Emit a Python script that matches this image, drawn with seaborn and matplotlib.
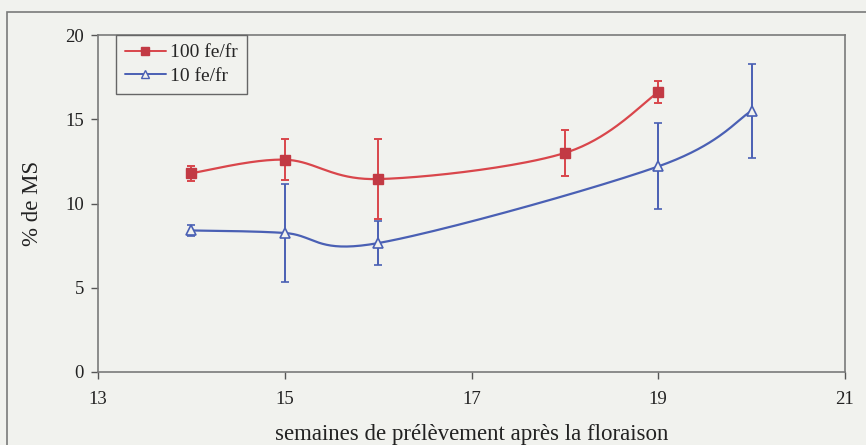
import numpy as np
import pandas as pd
import matplotlib
matplotlib.use("Agg")
import matplotlib.pyplot as plt
import seaborn as sns
from matplotlib.lines import Line2D
from matplotlib.patches import Rectangle

# ---- data ----
weeks_100 = [14, 15, 16, 18, 19]
ms_100 = [11.8, 12.6, 11.45, 13.0, 16.6]
err_100 = [0.45, 1.2, 2.35, 1.35, 0.65]

weeks_10 = [14, 15, 16, 19, 20]
ms_10 = [8.4, 8.25, 7.65, 12.2, 15.5]
err_10 = [0.3, 2.9, 1.3, 2.55, 2.8]

series_names = ["100 fe/fr", "10 fe/fr"]
x_ticks = [13, 15, 17, 19, 21]
y_ticks = [0, 5, 10, 15, 20]
x_label = "semaines de prélèvement après la floraison"
y_label = "% de MS"


def smooth(xs, ys, n=40):
    """Catmull-Rom (Excel-like smoothed line) through the data points."""
    P = np.column_stack([xs, ys]).astype(float)
    P = np.vstack([P[0], P, P[-1]])
    out = []
    t = np.linspace(0, 1, n)[:, None]
    for i in range(1, len(P) - 2):
        p0, p1, p2, p3 = P[i - 1], P[i], P[i + 1], P[i + 2]
        c1 = p1 + (p2 - p0) / 6
        c2 = p2 - (p3 - p1) / 6
        seg = ((1 - t) ** 3) * p1 + 3 * ((1 - t) ** 2) * t * c1 + 3 * (1 - t) * t ** 2 * c2 + t ** 3 * p2
        out.append(seg if i == 1 else seg[1:])
    arr = np.vstack(out)
    return arr[:, 0], arr[:, 1]


sns.set_style("white")
plt.rcParams["font.family"] = ["Liberation Serif", "DejaVu Serif"]

bg = "#f1f2ee"
red = "#d9464b"
red_m = "#c23a44"
blue = "#4a60b4"

fig = plt.figure(figsize=(8.66, 4.45), dpi=100, facecolor=bg)
ax = fig.add_axes([98 / 866, 1 - 372 / 445, (845 - 98) / 866, (372 - 35) / 445])
ax.set_facecolor(bg)

frames = []
for name, xs, ys in [(series_names[0], weeks_100, ms_100), (series_names[1], weeks_10, ms_10)]:
    sx, sy = smooth(xs, ys)
    frames.append(pd.DataFrame({"x": sx, "y": sy, "serie": name}))
curves = pd.concat(frames, ignore_index=True)

sns.lineplot(data=curves, x="x", y="y", hue="serie", sort=False,
             palette={series_names[0]: red, series_names[1]: blue},
             linewidth=1.6, legend=False, ax=ax, estimator=None)

ax.errorbar(weeks_100, ms_100, yerr=err_100, fmt="s", color=red, mfc=red_m, mec=red_m,
            ms=6.5, capsize=3, elinewidth=1.4, capthick=1.4, zorder=4)
ax.errorbar(weeks_10, ms_10, yerr=err_10, fmt="^", color=blue, mfc=bg, mec=blue,
            ms=6.5, mew=1.2, capsize=3, elinewidth=1.4, capthick=1.2, zorder=4)

ax.set_xlim(13, 21)
ax.set_ylim(0, 20)
ax.set_xticks(x_ticks)
ax.set_yticks(y_ticks)
ax.tick_params(axis="both", direction="out", length=5, width=1, color="#555555",
               labelsize=13.5, labelcolor="#222222", pad=5, bottom=True, left=True)
ax.tick_params(axis="x", pad=9)
for s in ax.spines.values():
    s.set_color("#7a7a7a")
    s.set_linewidth(1.2)

ax.set_xlabel(x_label, fontsize=16.5, color="#222222", labelpad=11)
ax.set_ylabel(y_label, fontsize=16.5, color="#222222", labelpad=16)

handles = [
    Line2D([], [], color=red, marker="s", mfc=red_m, mec=red_m, ms=6, lw=1.4),
    Line2D([], [], color=blue, marker="^", mfc=bg, mec=blue, ms=6, lw=1.4),
]
leg = ax.legend(handles, series_names, loc="upper left", bbox_to_anchor=(0.024, 1.0),
                frameon=True, fancybox=False, edgecolor="#666666", facecolor=bg,
                fontsize=14, handlelength=2.1, borderpad=0.45, labelspacing=0.3,
                handletextpad=0.25, borderaxespad=0)
leg.get_frame().set_linewidth(1.0)
leg.get_frame().set_alpha(1)

fig.patches.append(Rectangle((7 / 866, -0.05), 1.1, 1 - 12 / 445 + 0.05, transform=fig.transFigure,
                             fill=False, edgecolor="#7a7a7a", linewidth=1.2, clip_on=False))

fig.savefig("out.png", dpi=100, facecolor=bg)
